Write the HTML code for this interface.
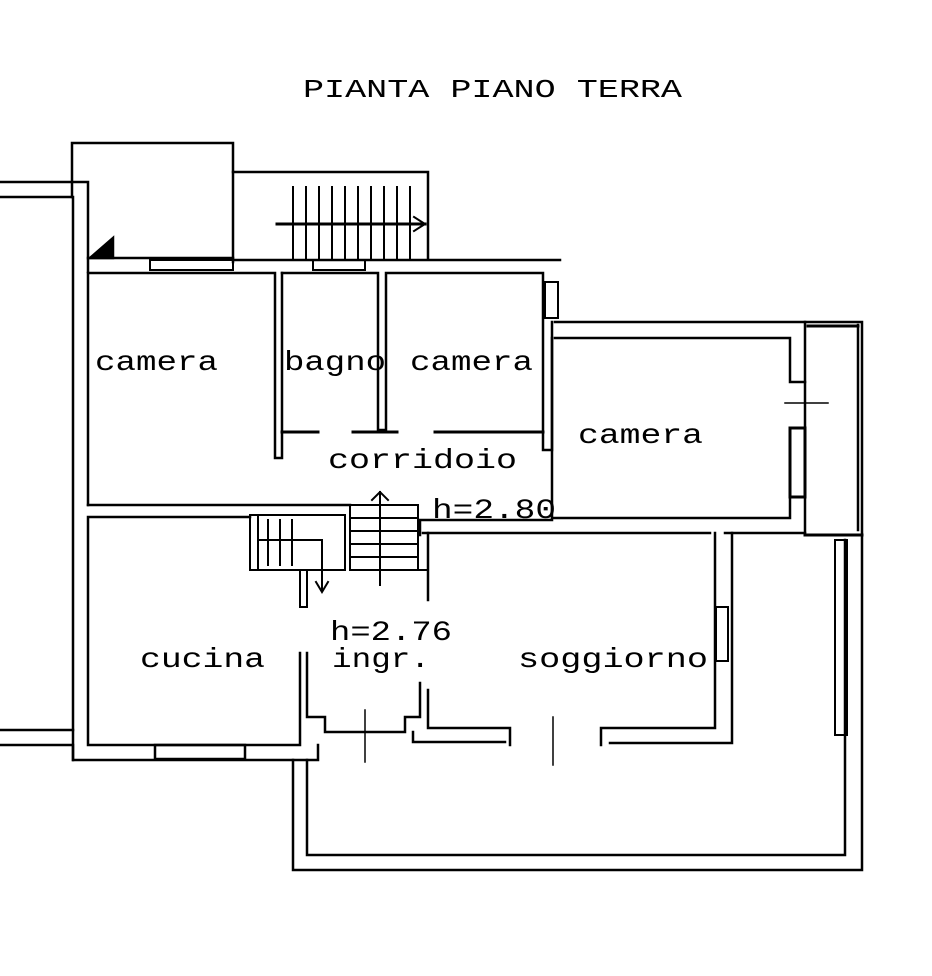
<!DOCTYPE html>
<html><head><meta charset="utf-8"><style>
html,body{margin:0;padding:0;background:#fff;}
svg{display:block}
text{font-family:"Liberation Mono",monospace;fill:#000;}
</style></head><body>
<svg width="932" height="976" viewBox="0 0 932 976" xmlns="http://www.w3.org/2000/svg">
<g fill="none" stroke="#000" stroke-width="2.5" stroke-linecap="square">
<!-- top left outer -->
<polyline points="0,182 88,182 88,272"/>
<polyline points="0,197 73,197 73,760"/>
<polyline points="72,197 72,143 233,143 233,172 428,172 428,258"/>
<line x1="233" y1="172" x2="233" y2="262"/>
<line x1="88" y1="258" x2="233" y2="258"/>
<line x1="233" y1="260" x2="560" y2="260"/>
<rect x="150" y="260" width="83" height="10" stroke-width="2"/>
<rect x="313" y="260" width="52" height="10" stroke-width="2"/>
<polygon points="90,258 113,238 113,258" fill="#000"/>
<!-- top stairs -->
<g stroke-width="2">
<line x1="293" y1="187" x2="293" y2="258"/><line x1="306" y1="187" x2="306" y2="258"/>
<line x1="319" y1="187" x2="319" y2="258"/><line x1="332" y1="187" x2="332" y2="258"/>
<line x1="345" y1="187" x2="345" y2="258"/><line x1="358" y1="187" x2="358" y2="258"/>
<line x1="371" y1="187" x2="371" y2="258"/><line x1="384" y1="187" x2="384" y2="258"/>
<line x1="397" y1="187" x2="397" y2="258"/><line x1="410" y1="187" x2="410" y2="258"/>
<line x1="277" y1="224" x2="425" y2="224" stroke-width="3"/>
<polyline points="414,217 425,224 414,231"/>
</g>
<!-- camera 1 -->
<polyline points="88,505 88,273 275,273 275,458 282,458 282,273"/>
<!-- bagno / camera2 -->
<polyline points="282,273 378,273 378,430 386,430 386,273 543,273 543,450 552,450 552,322"/>
<rect x="545" y="282" width="13" height="36" stroke-width="2"/>
<g stroke-width="3">
<line x1="282" y1="432" x2="318" y2="432"/>
<line x1="353" y1="432" x2="397" y2="432"/>
<line x1="435" y1="432" x2="543" y2="432"/>
</g>
<!-- camera 3 -->
<polyline points="555,322 862,322 862,535"/>
<polyline points="555,338 790,338 790,382 805,382"/>
<line x1="805" y1="322" x2="805" y2="535"/>
<line x1="858" y1="325" x2="858" y2="530"/>
<polyline points="808,326 858,326" stroke-width="3"/>
<rect x="790" y="428" width="15" height="69" stroke-width="3"/>
<line x1="785" y1="403" x2="828" y2="403" stroke-width="1.5"/>
<polyline points="552,338 552,518 790,518 790,497"/>
<line x1="805" y1="535" x2="862" y2="535" stroke-width="3"/>
<!-- corridor bottom -->
<line x1="88" y1="505" x2="350" y2="505"/>
<polyline points="420,535 420,520 552,520"/>
<line x1="423" y1="533" x2="710" y2="533"/>
<line x1="725" y1="533" x2="805" y2="533"/>
<!-- cucina -->
<polyline points="250,517 88,517 88,745 300,745 300,653"/>
<line x1="0" y1="730" x2="73" y2="730"/>
<polyline points="0,745 73,745 73,760 318,760 318,745"/>
<rect x="155" y="745" width="90" height="14" stroke-width="2.5"/>
<!-- small stairs -->
<g stroke-width="2">
<rect x="250" y="515" width="95" height="55"/>
<line x1="258" y1="515" x2="258" y2="570"/>
<line x1="268" y1="520" x2="268" y2="565"/><line x1="280" y1="520" x2="280" y2="565"/>
<line x1="292" y1="520" x2="292" y2="565"/>
<line x1="258" y1="540" x2="322" y2="540"/>
<line x1="322" y1="540" x2="322" y2="590"/>
<polyline points="316,582 322,592 328,582"/>
<polyline points="300,570 300,607 307,607 307,570"/>
<rect x="350" y="505" width="68" height="65"/>
<line x1="350" y1="518" x2="418" y2="518"/><line x1="350" y1="531" x2="418" y2="531"/>
<line x1="350" y1="544" x2="418" y2="544"/><line x1="350" y1="557" x2="418" y2="557"/>
<line x1="380" y1="492" x2="380" y2="585"/>
<polyline points="372,500 380,492 388,500"/>
<line x1="418" y1="570" x2="428" y2="570"/>
</g>
<line x1="428" y1="533" x2="428" y2="600"/>
<!-- entrance -->
<polyline points="307,653 307,717 325,717 325,732 405,732 405,717 420,717 420,683"/>
<line x1="365" y1="710" x2="365" y2="762" stroke-width="1.5"/>
<polyline points="413,732 413,742 505,742"/>
<polyline points="428,690 428,728 510,728 510,745"/>
<line x1="553" y1="717" x2="553" y2="765" stroke-width="1.5"/>
<polyline points="601,745 601,728 715,728 715,533"/>
<polyline points="610,743 732,743 732,533"/>
<rect x="716" y="607" width="12" height="54" stroke-width="2"/>
<!-- terrace -->
<polyline points="293,760 293,870 862,870 862,535"/>
<polyline points="307,760 307,855 845,855 845,540"/>
<rect x="835" y="540" width="12" height="195" stroke-width="2"/>
</g>
<text x="303" y="97" font-size="26" textLength="379" lengthAdjust="spacingAndGlyphs">PIANTA PIANO TERRA</text>
<g font-size="28">
<text x="95" y="370" textLength="123" lengthAdjust="spacingAndGlyphs">camera</text>
<text x="284" y="370" textLength="102" lengthAdjust="spacingAndGlyphs">bagno</text>
<text x="410" y="370" textLength="123" lengthAdjust="spacingAndGlyphs">camera</text>
<text x="578" y="443" textLength="125" lengthAdjust="spacingAndGlyphs">camera</text>
<text x="328" y="468" textLength="189" lengthAdjust="spacingAndGlyphs">corridoio</text>
<text x="432" y="518" textLength="124" lengthAdjust="spacingAndGlyphs">h=2.80</text>
<text x="330" y="640" textLength="122" lengthAdjust="spacingAndGlyphs">h=2.76</text>
<text x="140" y="667" textLength="125" lengthAdjust="spacingAndGlyphs">cucina</text>
<text x="332" y="667" textLength="98" lengthAdjust="spacingAndGlyphs">ingr.</text>
<text x="518" y="667" textLength="190" lengthAdjust="spacingAndGlyphs">soggiorno</text>
</g>
</svg>
</body></html>
